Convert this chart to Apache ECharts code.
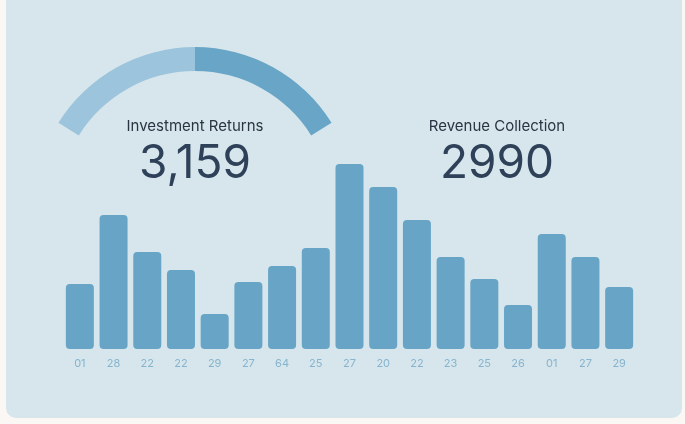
<!DOCTYPE html>
<html>
<head>
<meta charset="utf-8">
<script src="https://cdn.jsdelivr.net/npm/echarts@6/dist/echarts.min.js"></script>
<style>
  html, body { margin: 0; padding: 0; background: #fbf7f5; }
  #main { width: 685px; height: 424px; }
</style>
</head>
<body>
<div id="main"></div>
<script>
// day labels under the bars
const days = ["01", "28", "22", "22", "29", "27", "64", "25", "27", "20", "22", "23", "25", "26", "01", "27", "29"];
// bar heights
const values = [65, 134, 97, 79, 35, 67, 83, 101, 185, 162, 129, 92, 70, 44, 115, 92, 62];
// gauge split (light part / dark part)
const gaugeSplit = 0.5;
const leftTitle = "Investment Returns";
const leftValue = "3,159";
const rightTitle = "Revenue Collection";
const rightValue = "2990";

const chart = echarts.init(document.getElementById("main"));

const barColor = "#67a4c6";
const textDark = "#2f4158";

chart.setOption({
  backgroundColor: "#fbf7f5",
  animation: false,
  graphic: [
    {
      type: "rect",
      z: -10,
      shape: { x: 6, y: -10, width: 676, height: 428, r: 10 },
      style: { fill: "#d6e6ec" }
    },
    {
      type: "text", z: 10,
      x: 195, y: 126,
      style: { text: leftTitle, fill: "#2a3442", font: "15px Inter", textAlign: "center", textVerticalAlign: "middle" }
    },
    {
      type: "text", z: 10,
      x: 195, y: 164,
      style: { text: leftValue, fill: textDark, font: "46px Inter", textAlign: "center", textVerticalAlign: "middle" }
    },
    {
      type: "text", z: 10,
      x: 497, y: 126,
      style: { text: rightTitle, fill: "#2a3442", font: "15px Inter", textAlign: "center", textVerticalAlign: "middle" }
    },
    {
      type: "text", z: 10,
      x: 497, y: 164,
      style: { text: rightValue, fill: textDark, font: "46px Inter", textAlign: "center", textVerticalAlign: "middle" }
    }
  ],
  grid: { left: 63, right: 49, top: 149, bottom: 75 },
  xAxis: {
    type: "category",
    data: days,
    axisLine: { show: false },
    axisTick: { show: false },
    axisLabel: { color: "#86b4ce", fontSize: 11, margin: 9, fontFamily: "Inter" }
  },
  yAxis: {
    type: "value",
    min: 0,
    max: 200,
    show: false,
    splitLine: { show: false }
  },
  series: [
    {
      type: "bar",
      data: values,
      barWidth: 28,
      itemStyle: { color: barColor, borderRadius: 4 }
    },
    {
      type: "gauge",
      center: [195, 208],
      radius: 161,
      startAngle: 148,
      endAngle: 32,
      min: 0,
      max: 1,
      axisLine: {
        lineStyle: {
          width: 24,
          color: [[gaugeSplit, "#9cc4dc"], [1, "#68a5c6"]]
        }
      },
      splitLine: { show: false },
      axisTick: { show: false },
      axisLabel: { show: false },
      pointer: { show: false },
      detail: { show: false },
      title: { show: false },
      data: [{ value: 0 }]
    }
  ]
});
</script>
</body>
</html>
